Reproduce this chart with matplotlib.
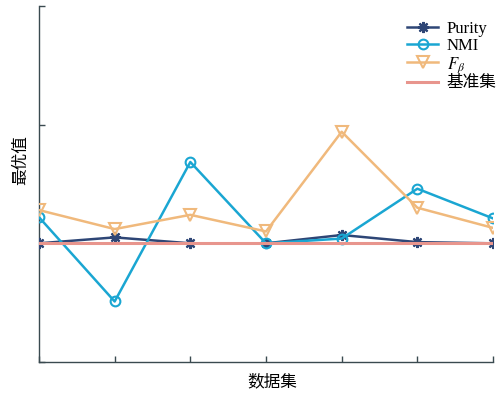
import matplotlib
matplotlib.use("Agg")
import matplotlib.pyplot as plt
import numpy as np

datasets = [1, 2, 3, 4, 5, 6, 7]
purity = [1.00, 1.05, 1.00, 1.00, 1.07, 1.01, 1.00]
nmi = [1.22, 0.51, 1.685, 1.00, 1.04, 1.46, 1.21]
fbeta = [1.28, 1.12, 1.24, 1.10, 1.94, 1.30, 1.13]
baseline = [1.0, 1.0, 1.0, 1.0, 1.0, 1.0, 1.0]
labels = ["Purity", "NMI", r"$F_\beta$", "基准集"]

plt.rcParams['font.family'] = ['Liberation Serif', 'Noto Sans CJK SC']
plt.rcParams['mathtext.fontset'] = 'stix'

fig = plt.figure(figsize=(4.96, 3.95), dpi=100)
ax = fig.add_axes([0.0786, 0.0835, 0.9154, 0.9015])

x = np.arange(len(datasets))
c_pur = "#2e4676"
c_nmi = "#1aa6d2"
c_fb = "#f0b97c"
c_base = "#e8958d"

ax.plot(x, purity, color=c_pur, lw=1.8, marker=(8, 2, 0), ms=8, mew=1.6,
        label=labels[0], zorder=3)
ax.plot(x, nmi, color=c_nmi, lw=1.8, marker='o', ms=7, mfc='none', mew=1.5,
        label=labels[1], zorder=3)
ax.plot(x, fbeta, color=c_fb, lw=1.8, marker='v', ms=8.5, mfc='none', mew=1.5,
        label=labels[2], zorder=3)
ax.plot(x, baseline, color=c_base, lw=2.2, label=labels[3], zorder=4)

ax.set_xlim(0, len(datasets) - 1)
ax.set_ylim(0, 3)
ax.set_xticks(x)
ax.set_yticks([0, 1, 2, 3])
ax.set_xticklabels([])
ax.set_yticklabels([])
ax.tick_params(direction='in', length=4, width=1, color="#3a4a50")
for s in ['top', 'right']:
    ax.spines[s].set_visible(False)
for s in ['left', 'bottom']:
    ax.spines[s].set_color("#3a4a50")
    ax.spines[s].set_linewidth(1.0)

ax.set_ylabel("最优值", fontsize=12)
ax.yaxis.set_label_coords(-0.022, 0.567)
ax.set_xlabel("数据集", fontsize=12)
ax.xaxis.set_label_coords(0.513, -0.035)

leg = ax.legend(loc='upper right', bbox_to_anchor=(1.03, 0.985), frameon=False,
                fontsize=12, handlelength=1.9, handletextpad=0.5,
                labelspacing=0.05, borderaxespad=0.2)

fig.savefig("out.png", dpi=100)
